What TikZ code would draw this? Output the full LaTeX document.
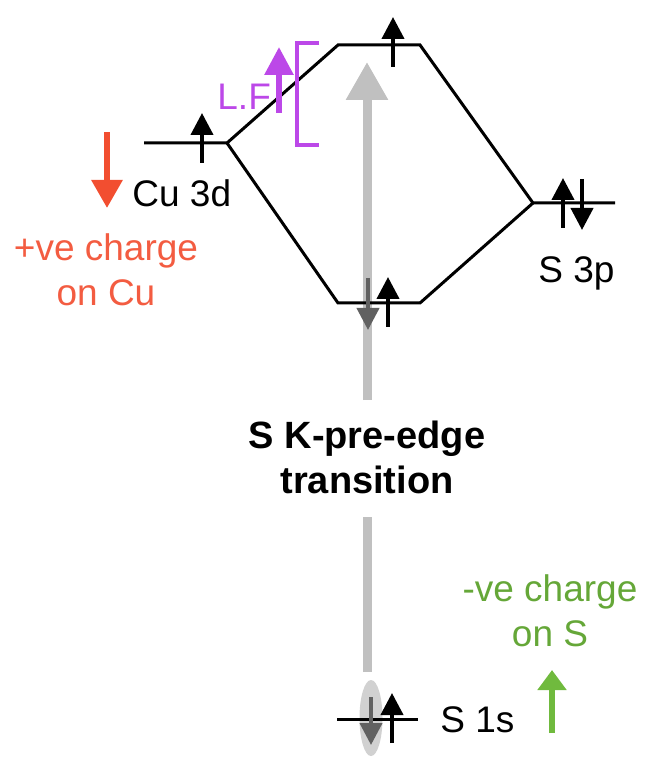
\documentclass[tikz,border=0pt]{standalone}
\usepackage{fontspec}
\setmainfont{Liberation Sans}
\usetikzlibrary{arrows.meta, positioning}
\definecolor{lfpurple}{RGB}{188, 72, 232}
\definecolor{cured}{RGB}{242, 78, 48}
\definecolor{sgreen}{RGB}{112, 186, 62}
\definecolor{bargray}{RGB}{192, 192, 192}

\tikzset{
  orbital/.style={line width=1.5pt, line join=miter},
  spinup/.style={line width=2pt, -{Triangle[width=11pt, length=11pt]}},
  spindown/.style={spinup, black!62},
  lbl/.style={font=\fontsize{18.5}{22.5}\selectfont, inner sep=0pt},
  fatarrow/.style={line width=3pt, -{Triangle[width=15pt, length=14pt]}},
}

\begin{document}
\begin{tikzpicture}[x=0.5pt, y=-0.5pt]
  \useasboundingbox (0,0) rectangle (645,758);

  % energy levels
  \coordinate (cuL) at (144,143);  \coordinate (cuR) at (227,143);
  \coordinate (upL) at (338,45);   \coordinate (upR) at (420,45);
  \coordinate (loL) at (338,303);  \coordinate (loR) at (420,303);
  \coordinate (spL) at (533,203);  \coordinate (spR) at (615,203);
  \coordinate (ssL) at (337,719);  \coordinate (ssR) at (418,719);

  % transition bar
  \coordinate (barBot) at (367,672);
  \coordinate (gapBot) at (367,517);
  \coordinate (gapTop) at (367,400);
  \coordinate (barTip) at (367,62);
  \draw[bargray, line width=4.5pt] (barBot) -- (gapBot);
  \draw[bargray, line width=4.5pt, -{Triangle[width=20pt, length=19pt]}] (gapTop) -- (barTip);
  \node[lbl, font=\fontsize{19}{22.5}\selectfont\bfseries, align=center] (trans) at (367,457) {S K-pre-edge\\transition};

  \fill[black!18] (371,718) ellipse (11.5 and 38);

  \draw[orbital] (cuL) -- (cuR) -- (upL) -- (upR) -- (spL) -- (spR);
  \draw[orbital] (cuR) -- (loL) -- (loR) -- (spL);
  \draw[orbital] (ssL) -- (ssR);

  % electrons
  \foreach \x/\y in {202/138, 393/42, 388/302, 563/203, 392/718} {
    \draw[spinup] (\x,\y+25) -- (\x,\y-25);
  }
  \draw[spindown] (368,278) -- (368,330);
  \draw[spindown] (371,697) -- (371,745);
  \draw[spinup] (582,179) -- (582,230);

  \node[lbl, anchor=base west] (cu) at (132,207) {Cu 3d};
  \node[lbl, anchor=base west] (s3p) at (538,283) {S 3p};
  \node[lbl, anchor=base west] (s1s) at (440,732) {S 1s};

  % ligand field
  \draw[lfpurple, fatarrow, -{Triangle[width=14pt, length=14pt]}] (279,113) -- (279,47);
  \draw[lfpurple, line width=1.6pt] (319,43) -- (297,43) -- (297,145) -- (319,145);
  \node[lbl, lfpurple, anchor=base west] (lf) at (217,110) {L.F};

  % charge shifts
  \draw[cured, fatarrow] (107,132) -- (107,208);
  \node[lbl, cured!92!white, align=center] (pos) at (106,270) {+ve charge\\on Cu};
  \draw[sgreen, line width=3.4pt, -{Triangle[width=14pt, length=10pt]}] (552,733) -- (552,670);
  \node[lbl, sgreen!90!black, align=center] (neg) at (550,611) {-ve charge\\on S};
\end{tikzpicture}
\end{document}
